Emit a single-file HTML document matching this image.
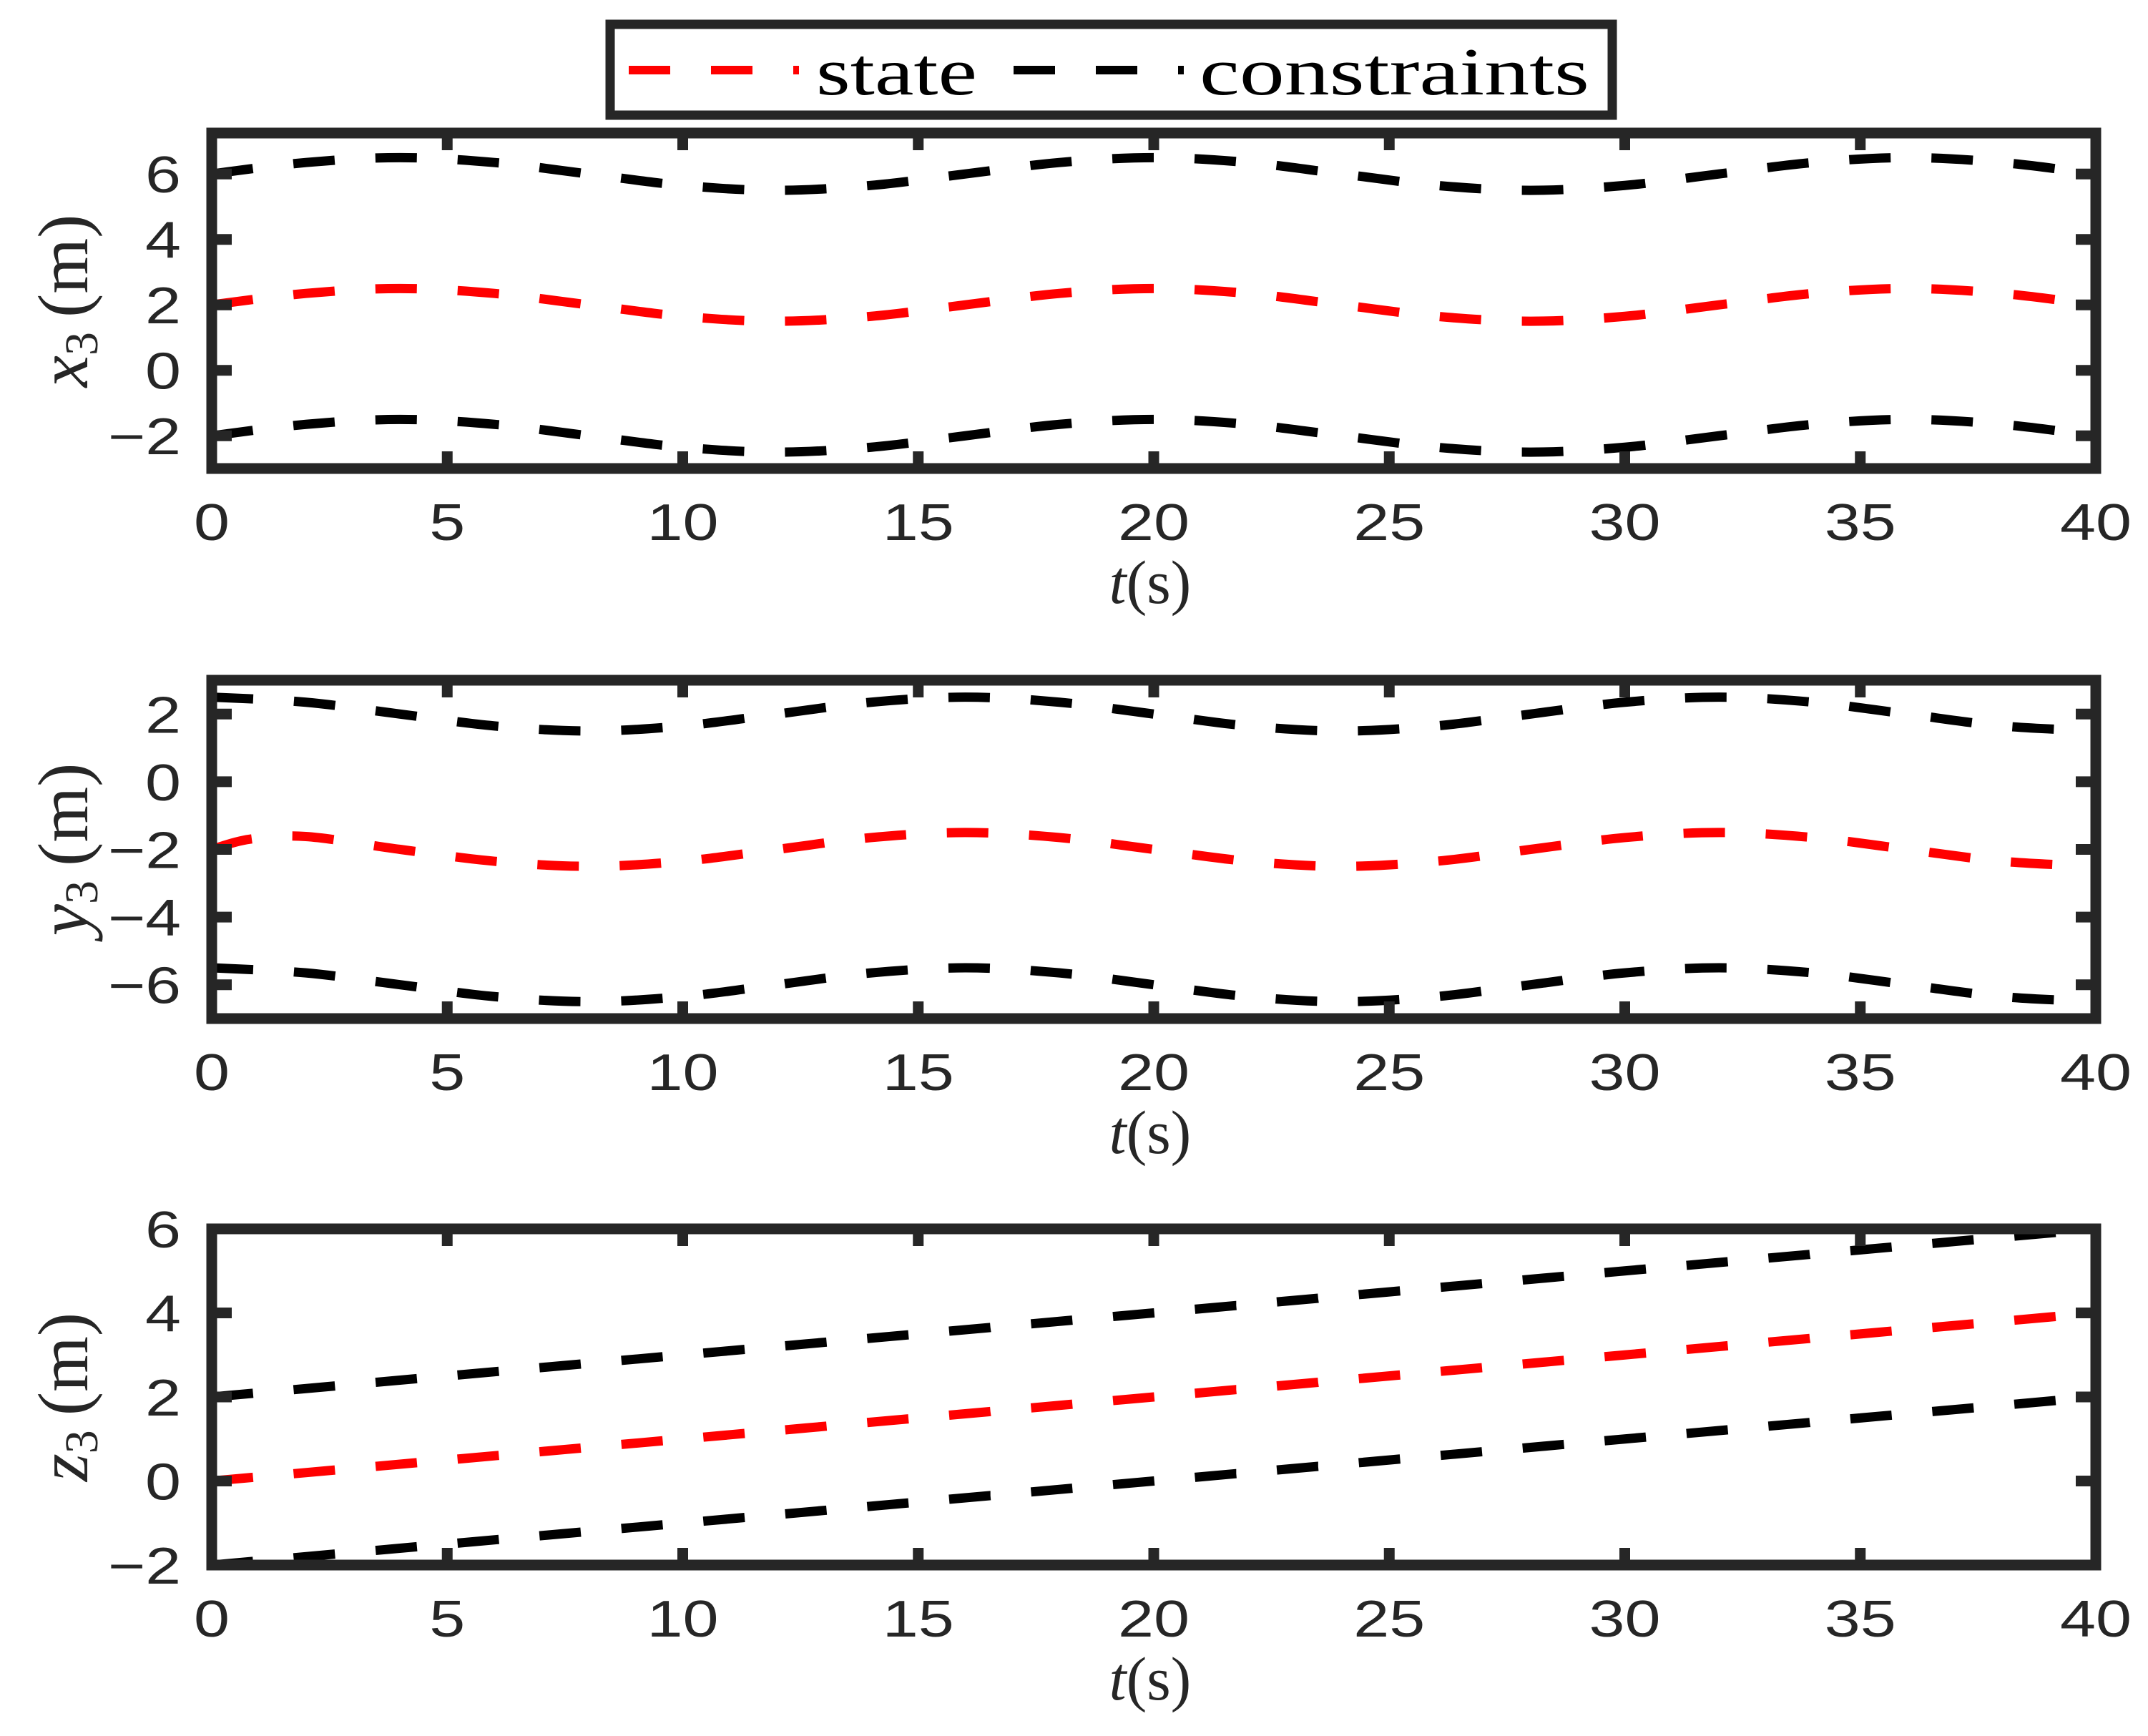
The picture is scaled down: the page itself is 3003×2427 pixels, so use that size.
<!DOCTYPE html>
<html><head><meta charset="utf-8"><style>
html,body{margin:0;padding:0;background:#fff;}
svg{display:block;}
</style></head><body>
<svg id="fig" width="3003" height="2427" viewBox="0 0 3003 2427" xmlns="http://www.w3.org/2000/svg">
<rect x="0" y="0" width="3003" height="2427" fill="#fff"/>
<g>
  <rect x="853" y="34" width="1401" height="127" fill="#fff" stroke="#262626" stroke-width="13"/>
  <line x1="879" y1="98" x2="1117" y2="98" stroke="#ff0000" stroke-width="12" stroke-dasharray="58 57"/>
  <text x="1141" y="132" font-family="Liberation Serif, serif" font-size="94" textLength="225" lengthAdjust="spacingAndGlyphs" fill="#000">state</text>
  <line x1="1417" y1="98" x2="1655" y2="98" stroke="#000" stroke-width="12" stroke-dasharray="58 57"/>
  <text x="1677" y="132" font-family="Liberation Serif, serif" font-size="94" textLength="545" lengthAdjust="spacingAndGlyphs" fill="#000">constraints</text>
</g>
<g id="plots"></g>
</svg>
<script>
// Shared x ticks
const xTicks = [0,5,10,15,20,25,30,35,40];

// Panel 1: x3
const t1 = [0,2,4,6,8,10,12,14,16,18,20,22,24,26,28,30,32,34,36,38,40];
const state1 = [2,2.35,2.5,2.35,2,1.65,1.5,1.65,2,2.35,2.5,2.35,2,1.65,1.5,1.65,2,2.35,2.5,2.35,2];
const upper1 = [6,6.35,6.5,6.35,6,5.65,5.5,5.65,6,6.35,6.5,6.35,6,5.65,5.5,5.65,6,6.35,6.5,6.35,6];
const lower1 = [-2,-1.65,-1.5,-1.65,-2,-2.35,-2.5,-2.35,-2,-1.65,-1.5,-1.65,-2,-2.35,-2.5,-2.35,-2,-1.65,-1.5,-1.65,-2];
const yTicks1 = [-2,0,2,4,6];

// Panel 2: y3
const t2s = [0,0.8,2,4,6,8,10,12,14,16,18,20,22,24,26,28,30,32,34,36,38,40];
const state2 = [-2,-1.7,-1.62,-2,-2.35,-2.5,-2.35,-2,-1.65,-1.5,-1.65,-2,-2.35,-2.5,-2.35,-2,-1.65,-1.5,-1.65,-2,-2.35,-2.5];
const t2 = [0,2,4,6,8,10,12,14,16,18,20,22,24,26,28,30,32,34,36,38,40];
const upper2 = [2.5,2.35,2,1.65,1.5,1.65,2,2.35,2.5,2.35,2,1.65,1.5,1.65,2,2.35,2.5,2.35,2,1.65,1.5];
const lower2 = [-5.5,-5.65,-6,-6.35,-6.5,-6.35,-6,-5.65,-5.5,-5.65,-6,-6.35,-6.5,-6.35,-6,-5.65,-5.5,-5.65,-6,-6.35,-6.5];
const yTicks2 = [-6,-4,-2,0,2];

// Panel 3: z3
const t3 = [0,5,10,15,20,25,30,35,40];
const state3 = [0,0.5,1,1.5,2,2.5,3,3.5,4];
const upper3 = [2,2.5,3,3.5,4,4.5,5,5.5,6];
const lower3 = [-2,-1.5,-1,-0.5,0,0.5,1,1.5,2];
const yTicks3 = [-2,0,2,4,6];

const NS = 'http://www.w3.org/2000/svg';
const root = document.getElementById('plots');
const X0 = 296, X1 = 2930;
function mk(tag, attrs, parent){ const e=document.createElementNS(NS,tag); for(const k in attrs) e.setAttribute(k,attrs[k]); parent.appendChild(e); return e; }

function smoothPath(pts){
  let d = 'M'+pts[0][0]+','+pts[0][1];
  for(let i=0;i<pts.length-1;i++){
    const p0=pts[Math.max(0,i-1)], p1=pts[i], p2=pts[i+1], p3=pts[Math.min(pts.length-1,i+2)];
    const c1x=p1[0]+(p2[0]-p0[0])/6, c1y=p1[1]+(p2[1]-p0[1])/6;
    const c2x=p2[0]-(p3[0]-p1[0])/6, c2y=p2[1]-(p3[1]-p1[1])/6;
    d+=' C'+c1x+','+c1y+' '+c2x+','+c2y+' '+p2[0]+','+p2[1];
  }
  return d;
}
function labelLen(s){ let n=0; for(const ch of s){ n += (ch==='\u2212') ? 52 : 50; } return n; }

function panel(name, top, bottom, ymin, ymax, yTicks, series, ylabelMain, ylabelSub){
  const g = mk('g',{},root);
  
  
  const xs = v => X0 + (v-0)/(40-0)*(X1-X0);
  const ys = v => bottom - (v-ymin)/(ymax-ymin)*(bottom-top);
  const clipId = name+'-clip';
  const cp = mk('clipPath',{id:clipId},g);
  mk('rect',{x:X0,y:top,width:X1-X0,height:bottom-top},cp);
  const dg = mk('g',{'clip-path':'url(#'+clipId+')'},g);
  series.forEach(s=>{
    const pts = s.t.map((tv,i)=>[xs(tv), ys(s.v[i])]);
    const p = mk('path',{d:smoothPath(pts),fill:'none',stroke:s.color,'stroke-width':13,'stroke-dasharray':'58 57'},dg);
    
    
  });
  xTicks.forEach(v=>{
    const x = xs(v);
    const tk = mk('path',{d:'M'+x+','+bottom+' v-24 M'+x+','+top+' v24',stroke:'#262626','stroke-width':15,fill:'none'},g);
    
    
    const s = String(v);
    const tl = mk('text',{x:x,y:bottom+100,'text-anchor':'middle','font-family':'Liberation Sans, sans-serif','font-size':72,fill:'#262626',textLength:labelLen(s),lengthAdjust:'spacingAndGlyphs'},g);
    tl.textContent = s;
    
    
  });
  yTicks.forEach(v=>{
    const y = ys(v);
    const tk = mk('path',{d:'M'+X0+','+y+' h28 M'+X1+','+y+' h-28',stroke:'#262626','stroke-width':15,fill:'none'},g);
    
    
    const s = (v<0?'\u2212'+Math.abs(v):String(v));
    const tl = mk('text',{x:253,y:y+26,'text-anchor':'end','font-family':'Liberation Sans, sans-serif','font-size':72,fill:'#262626',textLength:labelLen(s),lengthAdjust:'spacingAndGlyphs'},g);
    tl.textContent = s;
    
    
  });
  const box = mk('rect',{x:X0,y:top,width:X1-X0,height:bottom-top,fill:'none',stroke:'#262626','stroke-width':15},g);
  
  
  const xl = mk('text',{x:1608,y:bottom+188,'text-anchor':'middle','font-family':'Liberation Serif, serif','font-size':86,fill:'#262626'},g);
  
  
  const ti = mk('tspan',{'font-style':'italic'},xl); ti.textContent='t';
  const ts = mk('tspan',{},xl); ts.textContent='(s)';
  const cy = (top+bottom)/2;
  const yl = mk('text',{x:0,y:0,'text-anchor':'middle','font-family':'Liberation Serif, serif','font-size':100,fill:'#262626',transform:'translate(122,'+cy+') rotate(-90)'},g);
  
  
  const a = mk('tspan',{'font-style':'italic'},yl); a.textContent=ylabelMain;
  const b = mk('tspan',{'font-size':66,dy:14},yl); b.textContent=ylabelSub;
  const c = mk('tspan',{dy:-14},yl); c.textContent='\u2009(m)';
}

panel('x3-panel',186,655,-3,7.25,yTicks1,[
  {name:'x3-upper-constraint',t:t1,v:upper1,color:'#000'},
  {name:'x3-lower-constraint',t:t1,v:lower1,color:'#000'},
  {name:'x3-state',t:t1,v:state1,color:'#ff0000'}],'x','3');
panel('y3-panel',951,1424,-7,3,yTicks2,[
  {name:'y3-upper-constraint',t:t2,v:upper2,color:'#000'},
  {name:'y3-lower-constraint',t:t2,v:lower2,color:'#000'},
  {name:'y3-state',t:t2s,v:state2,color:'#ff0000'}],'y','3');
panel('z3-panel',1718,2188,-2,6,yTicks3,[
  {name:'z3-upper-constraint',t:t3,v:upper3,color:'#000'},
  {name:'z3-lower-constraint',t:t3,v:lower3,color:'#000'},
  {name:'z3-state',t:t3,v:state3,color:'#ff0000'}],'z','3');
</script>
</body></html>
